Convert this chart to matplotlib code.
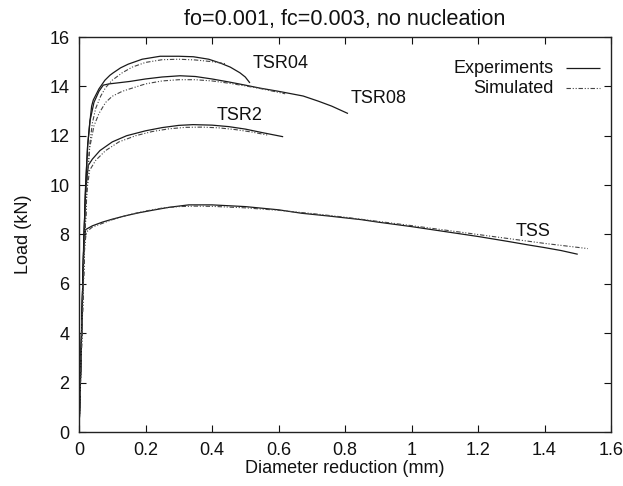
import matplotlib
matplotlib.use("Agg")
import matplotlib.pyplot as plt

plt.rcParams['font.family'] = ['Liberation Sans', 'DejaVu Sans']
plt.rcParams['font.size'] = 13

title = "fo=0.001, fc=0.003, no nucleation"
xlabel = "Diameter reduction (mm)"
ylabel = "Load (kN)"

xticks = [0, 0.2, 0.4, 0.6, 0.8, 1.0, 1.2, 1.4, 1.6]
xtick_labels = ["0", "0.2", "0.4", "0.6", "0.8", "1", "1.2", "1.4", "1.6"]
yticks = [0, 2, 4, 6, 8, 10, 12, 14, 16]
ytick_labels = ["0", "2", "4", "6", "8", "10", "12", "14", "16"]

# Experiments
tss_exp_x = [0, 0.005, 0.010, 0.014, 0.02, 0.04, 0.07, 0.10, 0.14, 0.18, 0.22, 0.27, 0.33, 0.40,
             0.50, 0.60, 0.67, 0.75, 0.85, 0.90, 1.00, 1.10, 1.20, 1.29, 1.35, 1.40, 1.45, 1.50]
tss_exp_y = [0, 2.5, 5.3, 7.6, 8.2, 8.35, 8.5, 8.62, 8.76, 8.88, 8.98, 9.1, 9.2, 9.2,
             9.13, 9.0, 8.86, 8.75, 8.6, 8.5, 8.32, 8.12, 7.92, 7.72, 7.58, 7.47, 7.35, 7.2]
tsr2_exp_x = [0, 0.005, 0.010, 0.015, 0.020, 0.028, 0.04, 0.063, 0.10, 0.143, 0.2, 0.25, 0.3,
              0.343, 0.4, 0.45, 0.5, 0.55, 0.614]
tsr2_exp_y = [0, 2.5, 5.3, 7.9, 9.8, 10.8, 11.05, 11.4, 11.75, 12.0, 12.2, 12.33, 12.42,
              12.45, 12.43, 12.37, 12.27, 12.13, 11.96]
tsr04_exp_x = [0, 0.005, 0.010, 0.015, 0.020, 0.026, 0.033, 0.038, 0.043, 0.06, 0.078, 0.093,
               0.103, 0.125, 0.148, 0.19, 0.244, 0.3, 0.344, 0.39, 0.424, 0.455, 0.484, 0.50, 0.514]
tsr04_exp_y = [0, 2.5, 5.3, 7.9, 10.0, 11.6, 12.6, 13.2, 13.45, 13.9, 14.25, 14.45,
               14.55, 14.75, 14.9, 15.1, 15.22, 15.22, 15.2, 15.1, 14.95, 14.78, 14.55, 14.38, 14.14]
tsr08_exp_x = [0, 0.005, 0.010, 0.015, 0.020, 0.026, 0.033, 0.045, 0.06, 0.073, 0.09, 0.103,
               0.153, 0.2, 0.25, 0.304, 0.35, 0.4, 0.45, 0.5, 0.544, 0.6, 0.674, 0.72, 0.76, 0.809]
tsr08_exp_y = [0, 2.5, 5.3, 7.9, 10.0, 11.6, 12.6, 13.35, 13.8, 14.05, 14.1, 14.12,
               14.2, 14.3, 14.38, 14.43, 14.4, 14.3, 14.18, 14.05, 13.93, 13.8, 13.61, 13.4, 13.2, 12.9]

# Simulated
tss_sim_x = [0, 0.006, 0.012, 0.016, 0.022, 0.04, 0.07, 0.10, 0.15, 0.20, 0.25, 0.30, 0.35, 0.40,
             0.50, 0.60, 0.70, 0.80, 0.90, 1.00, 1.10, 1.20, 1.30, 1.40, 1.53]
tss_sim_y = [0, 2.7, 5.5, 7.4, 8.1, 8.3, 8.45, 8.6, 8.8, 8.95, 9.07, 9.13, 9.15, 9.14,
             9.08, 8.98, 8.85, 8.7, 8.53, 8.36, 8.18, 8.0, 7.82, 7.64, 7.43]
tsr2_sim_x = [0, 0.006, 0.012, 0.018, 0.024, 0.032, 0.05, 0.08, 0.12, 0.17, 0.22, 0.27, 0.32,
              0.37, 0.42, 0.47, 0.52, 0.57]
tsr2_sim_y = [0, 2.7, 5.5, 8.0, 9.8, 10.6, 11.0, 11.4, 11.75, 12.0, 12.17, 12.28, 12.34,
              12.35, 12.32, 12.25, 12.15, 12.02]
tsr04_sim_x = [0, 0.006, 0.012, 0.018, 0.024, 0.032, 0.04, 0.05, 0.065, 0.08, 0.10, 0.13, 0.16,
               0.20, 0.25, 0.30, 0.35, 0.40, 0.44]
tsr04_sim_y = [0, 2.7, 5.5, 8.0, 10.0, 11.6, 12.5, 13.1, 13.6, 13.95, 14.25, 14.55, 14.78,
               14.97, 15.08, 15.1, 15.07, 15.0, 14.92]
tsr08_sim_x = [0, 0.006, 0.012, 0.018, 0.024, 0.032, 0.045, 0.06, 0.08, 0.10, 0.13, 0.153, 0.2,
               0.25, 0.3, 0.35, 0.4, 0.45, 0.5, 0.55, 0.62]
tsr08_sim_y = [0, 2.7, 5.5, 8.0, 10.0, 11.5, 12.4, 12.9, 13.35, 13.6, 13.8, 13.9, 14.1,
               14.22, 14.27, 14.27, 14.22, 14.13, 14.02, 13.9, 13.7]

curve_names = ["TSR04", "TSR08", "TSR2", "TSS"]
label_x = [0.605, 0.90, 0.484, 1.365]
label_y = [14.94, 13.52, 12.83, 8.14]

legend_labels = ["Experiments", "Simulated"]

fig = plt.figure(figsize=(6.23, 4.86), dpi=100)
ax = fig.add_axes([79 / 623, 54 / 486, 532 / 623, 395 / 486])

exp_style = dict(color='#1a1a1a', lw=0.9, solid_capstyle='butt')
sim_style = dict(color='#444444', lw=0.8, dashes=(4, 1.6, 1, 1.6, 1, 1.6))

for xs, ys in [(tss_exp_x, tss_exp_y), (tsr2_exp_x, tsr2_exp_y),
               (tsr04_exp_x, tsr04_exp_y), (tsr08_exp_x, tsr08_exp_y)]:
    ax.plot(xs, ys, **exp_style)
for xs, ys in [(tss_sim_x, tss_sim_y), (tsr2_sim_x, tsr2_sim_y),
               (tsr04_sim_x, tsr04_sim_y), (tsr08_sim_x, tsr08_sim_y)]:
    ax.plot(xs, ys, **sim_style)

for name, lx, ly in zip(curve_names, label_x, label_y):
    ax.text(lx, ly, name, ha='center', va='center', color='#111111')

# gnuplot-style key: right-aligned text, sample line to the right
key_y = [0.921, 0.870]
key_styles = [exp_style, sim_style]
for lab, ky, st in zip(legend_labels, key_y, key_styles):
    ax.text(0.893, ky, lab, transform=ax.transAxes, ha='right', va='center', color='#111111')
    ax.plot([0.915, 0.979], [ky, ky], transform=ax.transAxes, **st)

ax.set_xlim(0, 1.6)
ax.set_ylim(0, 16)
ax.set_xticks(xticks)
ax.set_xticklabels(xtick_labels)
ax.set_yticks(yticks)
ax.set_yticklabels(ytick_labels)
ax.tick_params(direction='in', top=True, right=True, length=5, width=0.8, pad=7,
               colors='#111111')
for s in ax.spines.values():
    s.set_linewidth(1.0)
    s.set_color('#222222')

ax.set_title(title, pad=9, color='#111111')
ax.set_xlabel(xlabel, labelpad=1, color='#111111')
ax.set_ylabel(ylabel, labelpad=12, color='#111111')

fig.savefig("out.png", dpi=100)
